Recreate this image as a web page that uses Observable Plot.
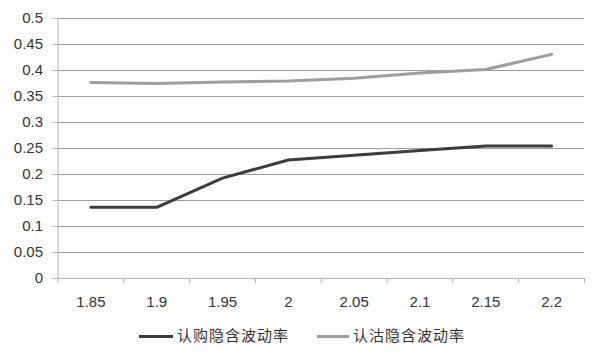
<!DOCTYPE html>
<html>
<head>
<meta charset="utf-8">
<script src="https://cdn.jsdelivr.net/npm/d3@7"></script>
<script src="https://cdn.jsdelivr.net/npm/@observablehq/plot@0.6"></script>
<style>
  body { margin: 0; background: #fff; }
  #wrap { position: relative; width: 600px; height: 356px; }
  #legend { position: absolute; left: 0; top: 315px; width: 600px; height: 41px; font-family: "Noto Sans CJK SC", sans-serif; font-size: 15px; color: #333; }
  .sw { position: absolute; height: 3px; top: 20px; }
  .lt { position: absolute; top: 8px; letter-spacing: 1px; line-height: 24px; }
</style>
</head>
<body>
<div id="wrap"></div>
<script>
const xs = [1.85, 1.9, 1.95, 2, 2.05, 2.1, 2.15, 2.2];
const callIV = [0.137, 0.137, 0.193, 0.228, 0.237, 0.246, 0.255, 0.255];
const putIV = [0.377, 0.375, 0.378, 0.380, 0.385, 0.395, 0.402, 0.431];
const yTicks = [0, 0.05, 0.1, 0.15, 0.2, 0.25, 0.3, 0.35, 0.4, 0.45, 0.5];
const seriesNames = ["认购隐含波动率", "认沽隐含波动率"];
const seriesColors = ["#3c3c3c", "#9e9e9e"];

const half = (xs[1] - xs[0]) / 2;
const bounds = [xs[0] - half, ...xs.slice(1).map((v, i) => (v + xs[i]) / 2), xs[xs.length - 1] + half];

const rows = [];
xs.forEach((x, i) => {
  rows.push({x, y: callIV[i], s: seriesNames[0]});
  rows.push({x, y: putIV[i], s: seriesNames[1]});
});

const axisColor = "#b4b4b4";
const chart = Plot.plot({
  width: 600,
  height: 315,
  marginLeft: 57.5,
  marginRight: 16,
  marginTop: 18,
  marginBottom: 37,
  style: {fontFamily: "'Liberation Sans', Arial, sans-serif", fontSize: "15px", color: "#333", background: "#fff"},
  x: {type: "linear", domain: [bounds[0], bounds[bounds.length - 1]]},
  y: {domain: [0, 0.5]},
  color: {domain: seriesNames, range: seriesColors},
  marks: [
    Plot.gridY(yTicks.filter(d => d > 0), {stroke: "#9c9c9c", strokeOpacity: 1}),
    Plot.ruleY([0], {stroke: axisColor}),
    Plot.ruleX([bounds[0]], {stroke: axisColor}),
    Plot.axisY(yTicks, {tickSize: 5, tickPadding: 10, stroke: axisColor, label: null, tickFormat: d => String(d), fontSize: 15, fill: "#333"}),
    Plot.axisX(bounds, {tickSize: 5, stroke: axisColor, label: null, tickFormat: () => ""}),
    Plot.axisX(xs, {tickSize: 0, tickPadding: 18, label: null, tickFormat: d => String(d), fontSize: 15, fill: "#333"}),
    Plot.line(rows.filter(r => r.s === seriesNames[1]), {x: "x", y: "y", stroke: "s", strokeWidth: 3}),
    Plot.line(rows.filter(r => r.s === seriesNames[0]), {x: "x", y: "y", stroke: "s", strokeWidth: 3})
  ]
});
const wrap = document.getElementById("wrap");
wrap.appendChild(chart);

const legend = document.createElement("div");
legend.id = "legend";
const pos = [{sw: 139, sww: 34, tx: 177}, {sw: 317, sww: 32, tx: 353}];
seriesNames.forEach((n, i) => {
  const s = document.createElement("div");
  s.className = "sw";
  s.style.left = pos[i].sw + "px";
  s.style.width = pos[i].sww + "px";
  s.style.background = seriesColors[i];
  legend.appendChild(s);
  const t = document.createElement("div");
  t.className = "lt";
  t.style.left = pos[i].tx + "px";
  t.textContent = n;
  legend.appendChild(t);
});
wrap.appendChild(legend);
</script>
</body>
</html>
